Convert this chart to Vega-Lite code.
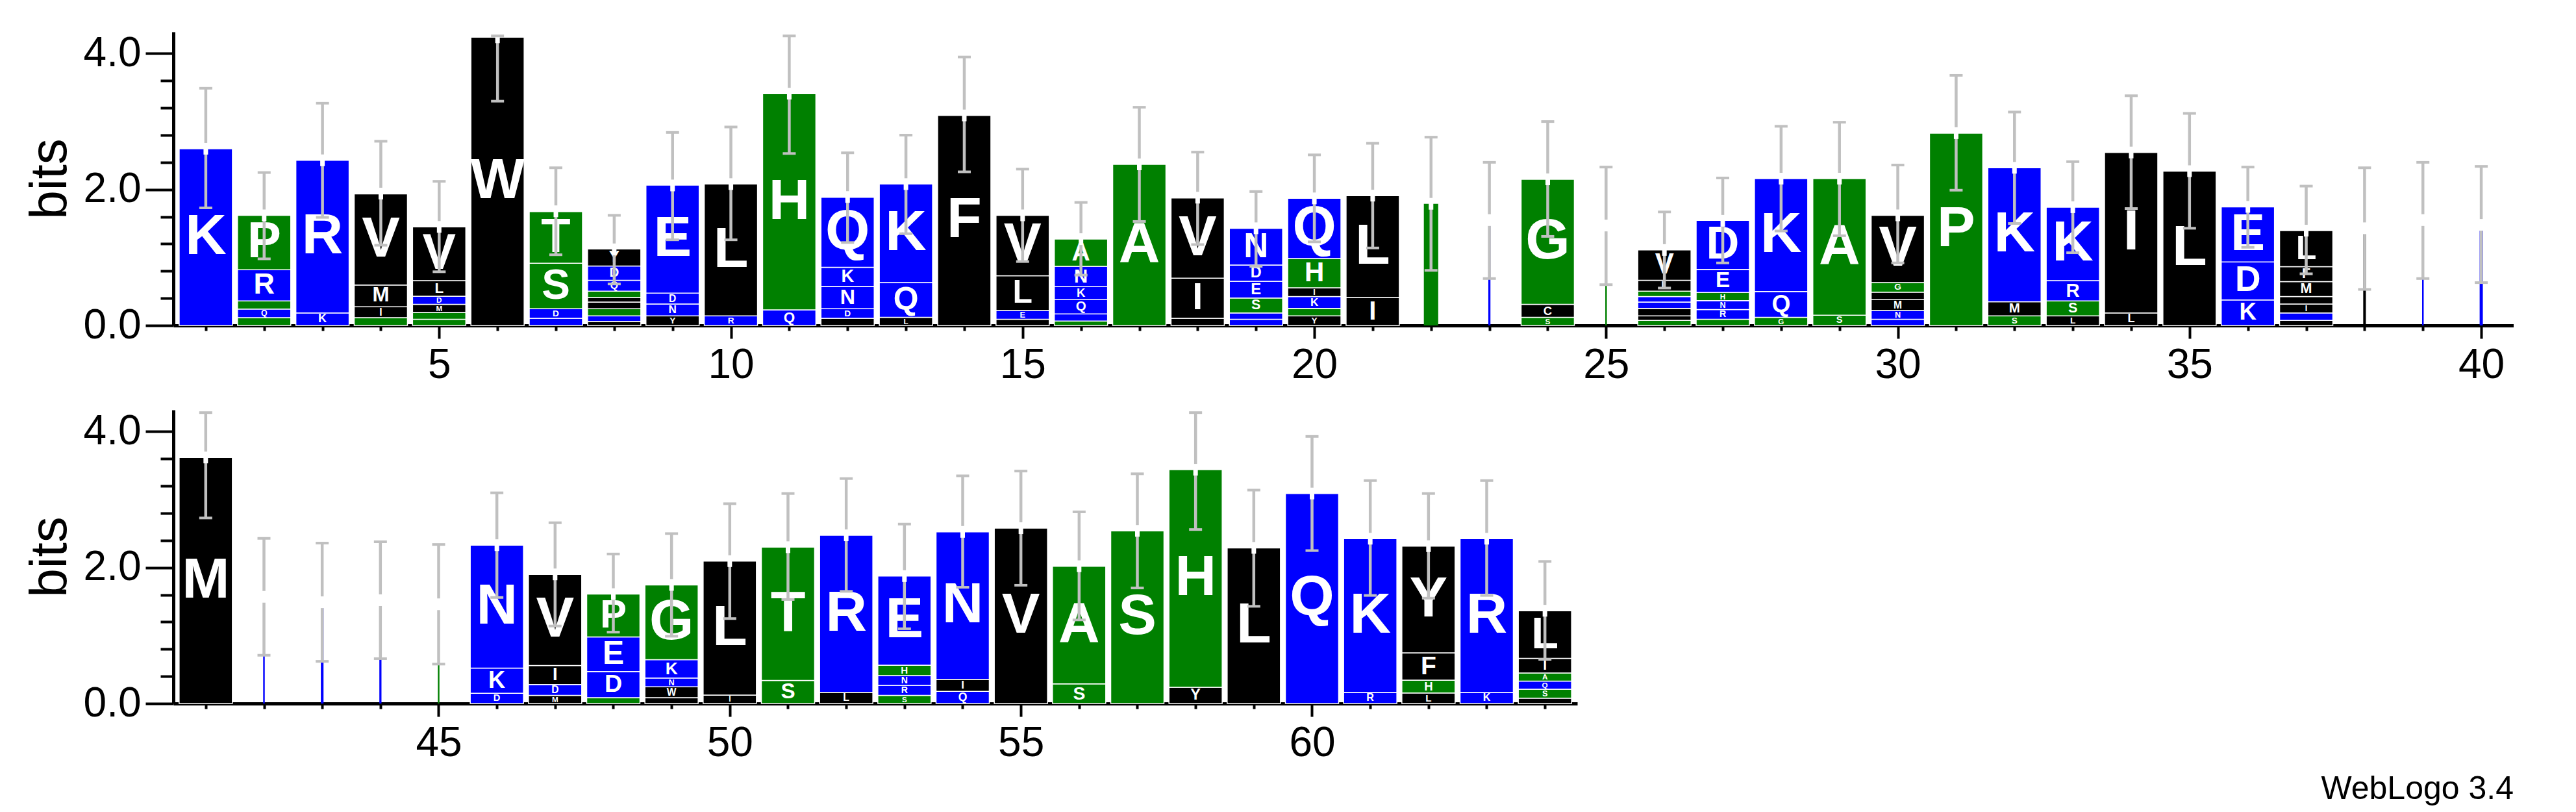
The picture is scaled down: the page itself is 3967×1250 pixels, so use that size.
{
  "$schema": "https://vega.github.io/schema/vega-lite/v6.json",
  "background": "white",
  "padding": {"left": 37, "top": 48, "right": 0, "bottom": 0},
  "config": {"view": {"stroke": null}, "font": "Liberation Sans"},
  "title": {"text": "WebLogo 3.4", "orient": "bottom", "anchor": "end", "fontSize": 50, "fontWeight": "normal", "font": "Liberation Sans", "color": "black", "offset": 14},
  "spacing": 37,
  "datasets": {
    "letters": [
      {"pos":1,"i":0,"aa":"K","bits":2.6,"w":1},
      {"pos":2,"i":0,"aa":"S","bits":0.115,"w":1},{"pos":2,"i":1,"aa":"Q","bits":0.127,"w":1},{"pos":2,"i":2,"aa":"A","bits":0.118,"w":1},{"pos":2,"i":3,"aa":"R","bits":0.46,"w":1},{"pos":2,"i":4,"aa":"P","bits":0.8,"w":1},
      {"pos":3,"i":0,"aa":"K","bits":0.185,"w":1},{"pos":3,"i":1,"aa":"R","bits":2.245,"w":1},
      {"pos":4,"i":0,"aa":"T","bits":0.115,"w":1},{"pos":4,"i":1,"aa":"I","bits":0.16,"w":1},{"pos":4,"i":2,"aa":"M","bits":0.32,"w":1},{"pos":4,"i":3,"aa":"V","bits":1.34,"w":1},
      {"pos":5,"i":0,"aa":"T","bits":0.09,"w":1},{"pos":5,"i":1,"aa":"S","bits":0.1,"w":1},{"pos":5,"i":2,"aa":"M","bits":0.12,"w":1},{"pos":5,"i":3,"aa":"D","bits":0.12,"w":1},{"pos":5,"i":4,"aa":"L","bits":0.23,"w":1},{"pos":5,"i":5,"aa":"V","bits":0.79,"w":1},
      {"pos":6,"i":0,"aa":"W","bits":4.24,"w":1},
      {"pos":7,"i":0,"aa":"N","bits":0.105,"w":1},{"pos":7,"i":1,"aa":"D","bits":0.14,"w":1},{"pos":7,"i":2,"aa":"S","bits":0.67,"w":1},{"pos":7,"i":3,"aa":"T","bits":0.76,"w":1},
      {"pos":8,"i":0,"aa":"V","bits":0.06,"w":1},{"pos":8,"i":1,"aa":"R","bits":0.08,"w":1},{"pos":8,"i":2,"aa":"P","bits":0.105,"w":1},{"pos":8,"i":3,"aa":"M","bits":0.1,"w":1},{"pos":8,"i":4,"aa":"F","bits":0.065,"w":1},{"pos":8,"i":5,"aa":"A","bits":0.095,"w":1},{"pos":8,"i":6,"aa":"Q","bits":0.16,"w":1},{"pos":8,"i":7,"aa":"D","bits":0.21,"w":1},{"pos":8,"i":8,"aa":"Y","bits":0.25,"w":1},
      {"pos":9,"i":0,"aa":"Y","bits":0.14,"w":1},{"pos":9,"i":1,"aa":"N","bits":0.175,"w":1},{"pos":9,"i":2,"aa":"D","bits":0.16,"w":1},{"pos":9,"i":3,"aa":"E","bits":1.59,"w":1},
      {"pos":10,"i":0,"aa":"R","bits":0.14,"w":1},{"pos":10,"i":1,"aa":"L","bits":1.94,"w":1},
      {"pos":11,"i":0,"aa":"Q","bits":0.23,"w":1},{"pos":11,"i":1,"aa":"H","bits":3.18,"w":1},
      {"pos":12,"i":0,"aa":"M","bits":0.105,"w":1},{"pos":12,"i":1,"aa":"D","bits":0.14,"w":1},{"pos":12,"i":2,"aa":"N","bits":0.33,"w":1},{"pos":12,"i":3,"aa":"K","bits":0.28,"w":1},{"pos":12,"i":4,"aa":"Q","bits":1.03,"w":1},
      {"pos":13,"i":0,"aa":"L","bits":0.12,"w":1},{"pos":13,"i":1,"aa":"Q","bits":0.51,"w":1},{"pos":13,"i":2,"aa":"K","bits":1.45,"w":1},
      {"pos":14,"i":0,"aa":"F","bits":3.09,"w":1},
      {"pos":15,"i":0,"aa":"M","bits":0.09,"w":1},{"pos":15,"i":1,"aa":"E","bits":0.13,"w":1},{"pos":15,"i":2,"aa":"L","bits":0.51,"w":1},{"pos":15,"i":3,"aa":"V","bits":0.89,"w":1},
      {"pos":16,"i":0,"aa":"S","bits":0.065,"w":1},{"pos":16,"i":1,"aa":"E","bits":0.105,"w":1},{"pos":16,"i":2,"aa":"Q","bits":0.21,"w":1},{"pos":16,"i":3,"aa":"K","bits":0.19,"w":1},{"pos":16,"i":4,"aa":"N","bits":0.3,"w":1},{"pos":16,"i":5,"aa":"A","bits":0.4,"w":1},
      {"pos":17,"i":0,"aa":"A","bits":2.37,"w":1},
      {"pos":18,"i":0,"aa":"L","bits":0.105,"w":1},{"pos":18,"i":1,"aa":"I","bits":0.59,"w":1},{"pos":18,"i":2,"aa":"V","bits":1.18,"w":1},
      {"pos":19,"i":0,"aa":"R","bits":0.09,"w":1},{"pos":19,"i":1,"aa":"Q","bits":0.095,"w":1},{"pos":19,"i":2,"aa":"S","bits":0.22,"w":1},{"pos":19,"i":3,"aa":"E","bits":0.245,"w":1},{"pos":19,"i":4,"aa":"D","bits":0.24,"w":1},{"pos":19,"i":5,"aa":"N","bits":0.54,"w":1},
      {"pos":20,"i":0,"aa":"Y","bits":0.14,"w":1},{"pos":20,"i":1,"aa":"T","bits":0.11,"w":1},{"pos":20,"i":2,"aa":"K","bits":0.175,"w":1},{"pos":20,"i":3,"aa":"I","bits":0.13,"w":1},{"pos":20,"i":4,"aa":"H","bits":0.43,"w":1},{"pos":20,"i":5,"aa":"Q","bits":0.885,"w":1},
      {"pos":21,"i":0,"aa":"I","bits":0.41,"w":1},{"pos":21,"i":1,"aa":"L","bits":1.5,"w":1},
      {"pos":22,"i":0,"aa":"G","bits":1.79,"w":0.27},
      {"pos":23,"i":0,"aa":"R","bits":1.55,"w":0.04},
      {"pos":24,"i":0,"aa":"S","bits":0.12,"w":1},{"pos":24,"i":1,"aa":"C","bits":0.19,"w":1},{"pos":24,"i":2,"aa":"G","bits":1.84,"w":1},
      {"pos":25,"i":0,"aa":"G","bits":1.47,"w":0.03},
      {"pos":26,"i":0,"aa":"P","bits":0.075,"w":1},{"pos":26,"i":1,"aa":"I","bits":0.065,"w":1},{"pos":26,"i":2,"aa":"F","bits":0.11,"w":1},{"pos":26,"i":3,"aa":"E","bits":0.095,"w":1},{"pos":26,"i":4,"aa":"D","bits":0.08,"w":1},{"pos":26,"i":5,"aa":"A","bits":0.08,"w":1},{"pos":26,"i":6,"aa":"L","bits":0.16,"w":1},{"pos":26,"i":7,"aa":"V","bits":0.445,"w":1},
      {"pos":27,"i":0,"aa":"S","bits":0.09,"w":1},{"pos":27,"i":1,"aa":"R","bits":0.145,"w":1},{"pos":27,"i":2,"aa":"N","bits":0.13,"w":1},{"pos":27,"i":3,"aa":"H","bits":0.12,"w":1},{"pos":27,"i":4,"aa":"E","bits":0.34,"w":1},{"pos":27,"i":5,"aa":"D","bits":0.72,"w":1},
      {"pos":28,"i":0,"aa":"G","bits":0.12,"w":1},{"pos":28,"i":1,"aa":"Q","bits":0.38,"w":1},{"pos":28,"i":2,"aa":"K","bits":1.66,"w":1},
      {"pos":29,"i":0,"aa":"S","bits":0.15,"w":1},{"pos":29,"i":1,"aa":"A","bits":2.01,"w":1},
      {"pos":30,"i":0,"aa":"R","bits":0.09,"w":1},{"pos":30,"i":1,"aa":"N","bits":0.13,"w":1},{"pos":30,"i":2,"aa":"M","bits":0.16,"w":1},{"pos":30,"i":3,"aa":"I","bits":0.11,"w":1},{"pos":30,"i":4,"aa":"G","bits":0.14,"w":1},{"pos":30,"i":5,"aa":"V","bits":0.99,"w":1},
      {"pos":31,"i":0,"aa":"P","bits":2.83,"w":1},
      {"pos":32,"i":0,"aa":"S","bits":0.14,"w":1},{"pos":32,"i":1,"aa":"M","bits":0.21,"w":1},{"pos":32,"i":2,"aa":"K","bits":1.97,"w":1},
      {"pos":33,"i":0,"aa":"L","bits":0.14,"w":1},{"pos":33,"i":1,"aa":"S","bits":0.22,"w":1},{"pos":33,"i":2,"aa":"R","bits":0.3,"w":1},{"pos":33,"i":3,"aa":"K","bits":1.08,"w":1},
      {"pos":34,"i":0,"aa":"L","bits":0.185,"w":1},{"pos":34,"i":1,"aa":"I","bits":2.36,"w":1},
      {"pos":35,"i":0,"aa":"L","bits":2.27,"w":1},
      {"pos":36,"i":0,"aa":"K","bits":0.375,"w":1},{"pos":36,"i":1,"aa":"D","bits":0.56,"w":1},{"pos":36,"i":2,"aa":"E","bits":0.81,"w":1},
      {"pos":37,"i":0,"aa":"Y","bits":0.075,"w":1},{"pos":37,"i":1,"aa":"R","bits":0.11,"w":1},{"pos":37,"i":2,"aa":"I","bits":0.13,"w":1},{"pos":37,"i":3,"aa":"C","bits":0.11,"w":1},{"pos":37,"i":4,"aa":"M","bits":0.22,"w":1},{"pos":37,"i":5,"aa":"F","bits":0.22,"w":1},{"pos":37,"i":6,"aa":"L","bits":0.53,"w":1},
      {"pos":38,"i":0,"aa":"L","bits":1.43,"w":0.05},
      {"pos":39,"i":0,"aa":"R","bits":1.55,"w":0.03},
      {"pos":40,"i":0,"aa":"R","bits":1.48,"w":0.06},
      {"pos":41,"i":0,"aa":"M","bits":3.62,"w":1},
      {"pos":42,"i":0,"aa":"R","bits":1.57,"w":0.03},
      {"pos":43,"i":0,"aa":"R","bits":1.49,"w":0.05},
      {"pos":44,"i":0,"aa":"R","bits":1.52,"w":0.04},
      {"pos":45,"i":0,"aa":"G","bits":1.46,"w":0.03},
      {"pos":46,"i":0,"aa":"D","bits":0.15,"w":1},{"pos":46,"i":1,"aa":"K","bits":0.37,"w":1},{"pos":46,"i":2,"aa":"N","bits":1.81,"w":1},
      {"pos":47,"i":0,"aa":"M","bits":0.12,"w":1},{"pos":47,"i":1,"aa":"D","bits":0.16,"w":1},{"pos":47,"i":2,"aa":"I","bits":0.28,"w":1},{"pos":47,"i":3,"aa":"V","bits":1.34,"w":1},
      {"pos":48,"i":0,"aa":"S","bits":0.085,"w":1},{"pos":48,"i":1,"aa":"D","bits":0.385,"w":1},{"pos":48,"i":2,"aa":"E","bits":0.51,"w":1},{"pos":48,"i":3,"aa":"P","bits":0.63,"w":1},
      {"pos":49,"i":0,"aa":"Y","bits":0.085,"w":1},{"pos":49,"i":1,"aa":"W","bits":0.16,"w":1},{"pos":49,"i":2,"aa":"N","bits":0.13,"w":1},{"pos":49,"i":3,"aa":"K","bits":0.27,"w":1},{"pos":49,"i":4,"aa":"G","bits":1.1,"w":1},
      {"pos":50,"i":0,"aa":"I","bits":0.125,"w":1},{"pos":50,"i":1,"aa":"L","bits":1.97,"w":1},
      {"pos":51,"i":0,"aa":"S","bits":0.34,"w":1},{"pos":51,"i":1,"aa":"T","bits":1.96,"w":1},
      {"pos":52,"i":0,"aa":"L","bits":0.165,"w":1},{"pos":52,"i":1,"aa":"R","bits":2.31,"w":1},
      {"pos":53,"i":0,"aa":"S","bits":0.12,"w":1},{"pos":53,"i":1,"aa":"R","bits":0.145,"w":1},{"pos":53,"i":2,"aa":"N","bits":0.145,"w":1},{"pos":53,"i":3,"aa":"H","bits":0.155,"w":1},{"pos":53,"i":4,"aa":"E","bits":1.31,"w":1},
      {"pos":54,"i":0,"aa":"Q","bits":0.18,"w":1},{"pos":54,"i":1,"aa":"I","bits":0.175,"w":1},{"pos":54,"i":2,"aa":"N","bits":2.17,"w":1},
      {"pos":55,"i":0,"aa":"V","bits":2.58,"w":1},
      {"pos":56,"i":0,"aa":"S","bits":0.29,"w":1},{"pos":56,"i":1,"aa":"A","bits":1.73,"w":1},
      {"pos":57,"i":0,"aa":"S","bits":2.54,"w":1},
      {"pos":58,"i":0,"aa":"Y","bits":0.24,"w":1},{"pos":58,"i":1,"aa":"H","bits":3.2,"w":1},
      {"pos":59,"i":0,"aa":"L","bits":2.29,"w":1},
      {"pos":60,"i":0,"aa":"Q","bits":3.09,"w":1},
      {"pos":61,"i":0,"aa":"R","bits":0.165,"w":1},{"pos":61,"i":1,"aa":"K","bits":2.26,"w":1},
      {"pos":62,"i":0,"aa":"L","bits":0.155,"w":1},{"pos":62,"i":1,"aa":"H","bits":0.19,"w":1},{"pos":62,"i":2,"aa":"F","bits":0.4,"w":1},{"pos":62,"i":3,"aa":"Y","bits":1.57,"w":1},
      {"pos":63,"i":0,"aa":"K","bits":0.165,"w":1},{"pos":63,"i":1,"aa":"R","bits":2.26,"w":1},
      {"pos":64,"i":0,"aa":"W","bits":0.08,"w":1},{"pos":64,"i":1,"aa":"S","bits":0.13,"w":1},{"pos":64,"i":2,"aa":"Q","bits":0.12,"w":1},{"pos":64,"i":3,"aa":"A","bits":0.12,"w":1},{"pos":64,"i":4,"aa":"I","bits":0.215,"w":1},{"pos":64,"i":5,"aa":"L","bits":0.7,"w":1}
    ],
    "err": [
      {"pos":1,"top":2.6,"lo":1.73,"hi":3.49},{"pos":2,"top":1.62,"lo":0.98,"hi":2.25},{"pos":3,"top":2.43,"lo":1.59,"hi":3.27},{"pos":4,"top":1.94,"lo":1.18,"hi":2.71},
      {"pos":5,"top":1.45,"lo":0.79,"hi":2.12},{"pos":6,"top":4.24,"lo":3.3,"hi":4.26},{"pos":7,"top":1.68,"lo":1.04,"hi":2.32},{"pos":8,"top":1.12,"lo":0.61,"hi":1.62},
      {"pos":9,"top":2.06,"lo":1.26,"hi":2.84},{"pos":10,"top":2.08,"lo":1.26,"hi":2.92},{"pos":11,"top":3.41,"lo":2.53,"hi":4.26},{"pos":12,"top":1.89,"lo":1.22,"hi":2.54},
      {"pos":13,"top":2.08,"lo":1.35,"hi":2.8},{"pos":14,"top":3.09,"lo":2.26,"hi":3.95},{"pos":15,"top":1.62,"lo":0.94,"hi":2.3},{"pos":16,"top":1.27,"lo":0.74,"hi":1.81},
      {"pos":17,"top":2.37,"lo":1.53,"hi":3.21},{"pos":18,"top":1.88,"lo":1.19,"hi":2.55},{"pos":19,"top":1.43,"lo":0.87,"hi":1.97},{"pos":20,"top":1.87,"lo":1.23,"hi":2.51},
      {"pos":21,"top":1.91,"lo":1.14,"hi":2.68},{"pos":22,"top":1.79,"lo":0.81,"hi":2.77},{"pos":23,"top":1.55,"lo":0.69,"hi":2.4},{"pos":24,"top":2.15,"lo":1.31,"hi":3.0},
      {"pos":25,"top":1.47,"lo":0.6,"hi":2.33},{"pos":26,"top":1.11,"lo":0.55,"hi":1.67},{"pos":27,"top":1.54,"lo":0.92,"hi":2.17},{"pos":28,"top":2.16,"lo":1.39,"hi":2.93},
      {"pos":29,"top":2.16,"lo":1.32,"hi":2.99},{"pos":30,"top":1.62,"lo":0.92,"hi":2.36},{"pos":31,"top":2.83,"lo":1.99,"hi":3.68},{"pos":32,"top":2.32,"lo":1.5,"hi":3.14},
      {"pos":33,"top":1.74,"lo":1.07,"hi":2.41},{"pos":34,"top":2.545,"lo":1.72,"hi":3.38},{"pos":35,"top":2.27,"lo":1.43,"hi":3.12},{"pos":36,"top":1.745,"lo":1.15,"hi":2.33},
      {"pos":37,"top":1.395,"lo":0.76,"hi":2.05},{"pos":38,"top":1.43,"lo":0.53,"hi":2.32},{"pos":39,"top":1.55,"lo":0.69,"hi":2.4},{"pos":40,"top":1.48,"lo":0.63,"hi":2.34},
      {"pos":41,"top":3.62,"lo":2.73,"hi":4.28},{"pos":42,"top":1.57,"lo":0.71,"hi":2.43},{"pos":43,"top":1.49,"lo":0.62,"hi":2.36},{"pos":44,"top":1.52,"lo":0.66,"hi":2.38},
      {"pos":45,"top":1.46,"lo":0.58,"hi":2.34},{"pos":46,"top":2.33,"lo":1.56,"hi":3.1},{"pos":47,"top":1.9,"lo":1.14,"hi":2.66},{"pos":48,"top":1.61,"lo":1.05,"hi":2.2},
      {"pos":49,"top":1.745,"lo":0.99,"hi":2.5},{"pos":50,"top":2.095,"lo":1.25,"hi":2.94},{"pos":51,"top":2.3,"lo":1.53,"hi":3.09},{"pos":52,"top":2.475,"lo":1.65,"hi":3.31},
      {"pos":53,"top":1.875,"lo":1.1,"hi":2.64},{"pos":54,"top":2.525,"lo":1.71,"hi":3.35},{"pos":55,"top":2.58,"lo":1.74,"hi":3.42},{"pos":56,"top":2.02,"lo":1.23,"hi":2.82},
      {"pos":57,"top":2.54,"lo":1.7,"hi":3.38},{"pos":58,"top":3.44,"lo":2.56,"hi":4.28},{"pos":59,"top":2.29,"lo":1.43,"hi":3.14},{"pos":60,"top":3.09,"lo":2.25,"hi":3.93},
      {"pos":61,"top":2.425,"lo":1.59,"hi":3.28},{"pos":62,"top":2.315,"lo":1.55,"hi":3.09},{"pos":63,"top":2.425,"lo":1.59,"hi":3.28},{"pos":64,"top":1.365,"lo":0.65,"hi":2.09}
    ]
  },
  "vconcat": [
    {
      "width": 3604,
      "height": 452,
      "resolve": {"scale": {"size": "independent"}},
      "layer": [
        {
          "data": {"name": "letters"},
          "transform": [
            {"filter": "datum.pos <= 40"},
            {"stack": "bits", "groupby": ["pos"], "sort": [{"field": "i", "order": "ascending"}], "as": ["y0", "y1"]}
          ],
          "mark": {"type": "bar", "stroke": "white"},
          "encoding": {
            "x": {"field": "pos", "type": "quantitative", "scale": {"domain": [0.5, 40.5], "nice": false, "zero": false},
              "axis": {"values": [1,2,3,4,5,6,7,8,9,10,11,12,13,14,15,16,17,18,19,20,21,22,23,24,25,26,27,28,29,30,31,32,33,34,35,36,37,38,39,40],
                "format": "d", "labelExpr": "datum.value % 5 === 0 ? datum.label : ''",
                "tickSize": {"condition": {"test": "datum.value % 5 === 0", "value": 20}, "value": 8},
                "title": null, "grid": false, "labelFontSize": 64, "labelFont": "Liberation Sans", "labelColor": "black", "labelPadding": 9,
                "labelOverlap": false, "labelFlush": false, "domainWidth": 5, "domainColor": "black", "tickWidth": 4, "tickColor": "black"}},
            "y": {"field": "y0", "type": "quantitative", "scale": {"domain": [0, 4.32], "nice": false},
              "axis": {"values": [0,0.2,0.4,0.6,0.8,1,1.2,1.4,1.6,1.8,2,2.2,2.4,2.6,2.8,3,3.2,3.4,3.6,3.8,4,4.2],
                "labelExpr": "abs(datum.value - round(datum.value)) < 0.01 ? format(datum.value, '.1f') : ''",
                "tickSize": {"condition": {"test": "abs(datum.value - round(datum.value)) < 0.01", "value": 43}, "value": 20},
                "title": "bits", "titleFontSize": 80, "titleFontWeight": "normal", "titleFont": "Liberation Sans", "titleColor": "black", "titlePadding": 10,
                "grid": false, "labelFontSize": 64, "labelFont": "Liberation Sans", "labelColor": "black", "labelPadding": 7,
                "labelOverlap": false, "labelFlush": false, "domainWidth": 5, "domainColor": "black", "tickWidth": 4, "tickColor": "black"}},
            "y2": {"field": "y1"},
            "color": {"field": "aa", "type": "nominal", "legend": null,
              "scale": {"domain": ["R","K","D","E","N","Q","S","G","H","T","A","P","Y","V","M","C","L","F","I","W"],
                "range": ["#0000ff","#0000ff","#0000ff","#0000ff","#0000ff","#0000ff","#008000","#008000","#008000","#008000","#008000","#008000","#000000","#000000","#000000","#000000","#000000","#000000","#000000","#000000"]}},
            "size": {"field": "w", "type": "quantitative", "legend": null, "scale": {"domain": [0, 1], "range": [0, 82]}},
            "strokeWidth": {"condition": {"test": "datum.w < 0.5", "value": 0}, "value": 1.5}
          }
        },
        {
          "data": {"name": "letters"},
          "transform": [
            {"filter": "datum.pos <= 40"},
            {"stack": "bits", "groupby": ["pos"], "sort": [{"field": "i", "order": "ascending"}], "as": ["y0", "y1"]},
            {"calculate": "(datum.y0 + datum.y1) / 2", "as": "mid"},
            {"filter": "datum.w >= 0.5 && datum.bits >= 0.12"}
          ],
          "mark": {"type": "text", "color": "white", "font": "Liberation Sans", "fontWeight": "bold", "baseline": "middle", "align": "center"},
          "encoding": {
            "x": {"field": "pos", "type": "quantitative"},
            "y": {"field": "mid", "type": "quantitative"},
            "text": {"field": "aa"},
            "size": {"field": "bits", "type": "quantitative", "legend": null, "scale": {"domain": [0, 0.9], "range": [0, 88], "clamp": true}}
          }
        },
        {
          "data": {"name": "err"},
          "transform": [{"filter": "datum.pos <= 40"}],
          "mark": {"type": "rule", "color": "#c0c0c0", "strokeWidth": 4.5},
          "encoding": {"x": {"field": "pos", "type": "quantitative"}, "y": {"field": "lo", "type": "quantitative"}, "y2": {"field": "hi"}}
        },
        {
          "data": {"name": "err"},
          "transform": [{"filter": "datum.pos <= 40"}],
          "mark": {"type": "tick", "orient": "vertical", "color": "white", "thickness": 7, "size": 18, "opacity": 1},
          "encoding": {"x": {"field": "pos", "type": "quantitative"}, "y": {"field": "top", "type": "quantitative"}}
        },
        {
          "data": {"name": "err"},
          "transform": [{"filter": "datum.pos <= 40"}],
          "mark": {"type": "tick", "orient": "horizontal", "color": "#c0c0c0", "thickness": 4, "size": 20, "opacity": 1},
          "encoding": {"x": {"field": "pos", "type": "quantitative"}, "y": {"field": "lo", "type": "quantitative"}}
        },
        {
          "data": {"name": "err"},
          "transform": [{"filter": "datum.pos <= 40"}],
          "mark": {"type": "tick", "orient": "horizontal", "color": "#c0c0c0", "thickness": 4, "size": 20, "opacity": 1},
          "encoding": {"x": {"field": "pos", "type": "quantitative"}, "y": {"field": "hi", "type": "quantitative"}}
        }
      ]
    },
    {
      "width": 2162,
      "height": 452,
      "resolve": {"scale": {"size": "independent"}},
      "layer": [
        {
          "data": {"name": "letters"},
          "transform": [
            {"filter": "datum.pos > 40"},
            {"stack": "bits", "groupby": ["pos"], "sort": [{"field": "i", "order": "ascending"}], "as": ["y0", "y1"]}
          ],
          "mark": {"type": "bar", "stroke": "white"},
          "encoding": {
            "x": {"field": "pos", "type": "quantitative", "scale": {"domain": [40.5, 64.5], "nice": false, "zero": false},
              "axis": {"values": [41,42,43,44,45,46,47,48,49,50,51,52,53,54,55,56,57,58,59,60,61,62,63,64],
                "format": "d", "labelExpr": "datum.value % 5 === 0 ? datum.label : ''",
                "tickSize": {"condition": {"test": "datum.value % 5 === 0", "value": 20}, "value": 8},
                "title": null, "grid": false, "labelFontSize": 64, "labelFont": "Liberation Sans", "labelColor": "black", "labelPadding": 9,
                "labelOverlap": false, "labelFlush": false, "domainWidth": 5, "domainColor": "black", "tickWidth": 4, "tickColor": "black"}},
            "y": {"field": "y0", "type": "quantitative", "scale": {"domain": [0, 4.32], "nice": false},
              "axis": {"values": [0,0.2,0.4,0.6,0.8,1,1.2,1.4,1.6,1.8,2,2.2,2.4,2.6,2.8,3,3.2,3.4,3.6,3.8,4,4.2],
                "labelExpr": "abs(datum.value - round(datum.value)) < 0.01 ? format(datum.value, '.1f') : ''",
                "tickSize": {"condition": {"test": "abs(datum.value - round(datum.value)) < 0.01", "value": 43}, "value": 20},
                "title": "bits", "titleFontSize": 80, "titleFontWeight": "normal", "titleFont": "Liberation Sans", "titleColor": "black", "titlePadding": 10,
                "grid": false, "labelFontSize": 64, "labelFont": "Liberation Sans", "labelColor": "black", "labelPadding": 7,
                "labelOverlap": false, "labelFlush": false, "domainWidth": 5, "domainColor": "black", "tickWidth": 4, "tickColor": "black"}},
            "y2": {"field": "y1"},
            "color": {"field": "aa", "type": "nominal", "legend": null,
              "scale": {"domain": ["R","K","D","E","N","Q","S","G","H","T","A","P","Y","V","M","C","L","F","I","W"],
                "range": ["#0000ff","#0000ff","#0000ff","#0000ff","#0000ff","#0000ff","#008000","#008000","#008000","#008000","#008000","#008000","#000000","#000000","#000000","#000000","#000000","#000000","#000000","#000000"]}},
            "size": {"field": "w", "type": "quantitative", "legend": null, "scale": {"domain": [0, 1], "range": [0, 82]}},
            "strokeWidth": {"condition": {"test": "datum.w < 0.5", "value": 0}, "value": 1.5}
          }
        },
        {
          "data": {"name": "letters"},
          "transform": [
            {"filter": "datum.pos > 40"},
            {"stack": "bits", "groupby": ["pos"], "sort": [{"field": "i", "order": "ascending"}], "as": ["y0", "y1"]},
            {"calculate": "(datum.y0 + datum.y1) / 2", "as": "mid"},
            {"filter": "datum.w >= 0.5 && datum.bits >= 0.12"}
          ],
          "mark": {"type": "text", "color": "white", "font": "Liberation Sans", "fontWeight": "bold", "baseline": "middle", "align": "center"},
          "encoding": {
            "x": {"field": "pos", "type": "quantitative"},
            "y": {"field": "mid", "type": "quantitative"},
            "text": {"field": "aa"},
            "size": {"field": "bits", "type": "quantitative", "legend": null, "scale": {"domain": [0, 0.9], "range": [0, 88], "clamp": true}}
          }
        },
        {
          "data": {"name": "err"},
          "transform": [{"filter": "datum.pos > 40"}],
          "mark": {"type": "rule", "color": "#c0c0c0", "strokeWidth": 4.5},
          "encoding": {"x": {"field": "pos", "type": "quantitative"}, "y": {"field": "lo", "type": "quantitative"}, "y2": {"field": "hi"}}
        },
        {
          "data": {"name": "err"},
          "transform": [{"filter": "datum.pos > 40"}],
          "mark": {"type": "tick", "orient": "vertical", "color": "white", "thickness": 7, "size": 18, "opacity": 1},
          "encoding": {"x": {"field": "pos", "type": "quantitative"}, "y": {"field": "top", "type": "quantitative"}}
        },
        {
          "data": {"name": "err"},
          "transform": [{"filter": "datum.pos > 40"}],
          "mark": {"type": "tick", "orient": "horizontal", "color": "#c0c0c0", "thickness": 4, "size": 20, "opacity": 1},
          "encoding": {"x": {"field": "pos", "type": "quantitative"}, "y": {"field": "lo", "type": "quantitative"}}
        },
        {
          "data": {"name": "err"},
          "transform": [{"filter": "datum.pos > 40"}],
          "mark": {"type": "tick", "orient": "horizontal", "color": "#c0c0c0", "thickness": 4, "size": 20, "opacity": 1},
          "encoding": {"x": {"field": "pos", "type": "quantitative"}, "y": {"field": "hi", "type": "quantitative"}}
        }
      ]
    }
  ]
}
